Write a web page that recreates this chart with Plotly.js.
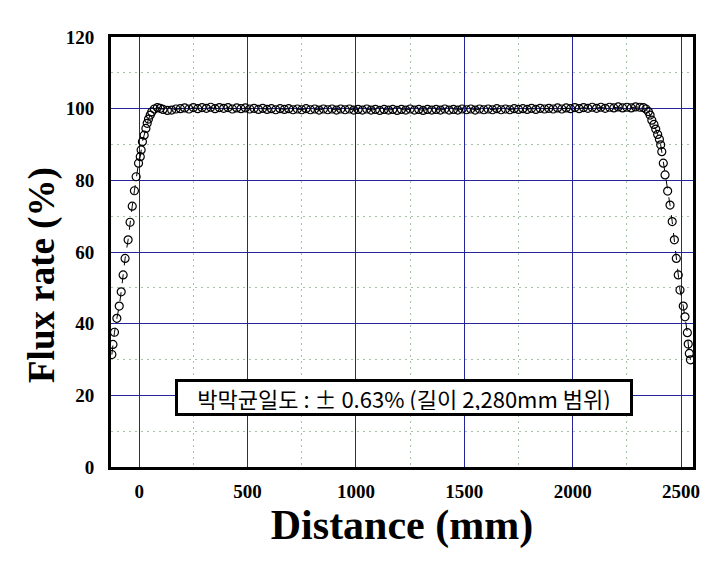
<!DOCTYPE html>
<html>
<head>
<meta charset="utf-8">
<script src="https://cdn.plot.ly/plotly-3.0.1.min.js"></script>
<style>html,body{margin:0;padding:0;background:#fff;}#chart{width:726px;height:564px;}</style>
</head>
<body>
<div id="chart"></div>
<script>
// Left rise
const xLeft = [-126,-121,-114,-103,-92,-83,-74,-65,-51,-42,-32,-22,-14,-3,5,9,15,23,31,37,43,51,58,70,84,97];
const yLeft = [31.4,34.2,37.6,41.5,44.9,48.9,53.6,58.2,63.4,68.3,72.8,77.1,81.0,84.8,86.6,88.5,90.8,92.6,94.5,95.9,97.1,98.2,99.1,99.9,100.3,100.1];
// Flat region
const xFlat = [110,130,150,170,190,210,230,250,270,290,310,330,350,370,390,410,430,450,470,490,
  510,530,550,570,590,610,630,650,670,690,710,730,750,770,790,810,830,850,870,890,910,930,950,970,990,
  1010,1030,1050,1070,1090,1110,1130,1150,1170,1190,1210,1230,1250,1270,1290,1310,1330,1350,1370,1390,
  1410,1430,1450,1470,1490,1510,1530,1550,1570,1590,
  1610,1630,1650,1670,1690,1710,1730,1750,1770,1790,1810,1830,1850,1870,1890,1910,1930,1950,1970,1990,
  2010,2030,2050,2070,2090,2110,2130,2150,2170,2190,2210,2230,2250,2270,2290,2310];
const yFlat = [99.8,99.5,99.6,99.9,100.0,
  100.2,99.9,100.3,100.0,100.3,100.1,100.4,100.0,100.3,100.1,100.3,99.9,100.2,100.0,100.2,
  99.9,100.1,99.8,100.1,99.8,100.0,99.7,100.0,99.8,100.0,99.7,99.9,99.7,100.0,99.7,99.9,99.6,99.9,99.7,99.9,99.6,99.9,99.7,99.9,99.6,
  99.8,99.6,99.9,99.6,99.8,99.5,99.8,99.6,99.8,99.5,99.8,99.6,99.9,99.6,99.8,99.5,99.8,99.6,99.8,99.6,99.9,99.6,99.8,99.6,99.9,99.7,99.9,99.6,99.9,99.7,
  99.9,99.7,100.0,99.7,99.9,99.7,100.0,99.8,100.0,99.8,100.1,99.8,100.1,99.9,100.1,99.9,100.2,99.9,100.2,100.0,
  100.3,100.0,100.3,100.1,100.4,100.1,100.4,100.1,100.4,100.2,100.5,100.2,100.4,100.2,100.5,100.4];
// Right fall
const xRight = [2326,2338,2349,2357,2365,2375,2383,2392,2400,2406,2411,2418,2426,2438,2449,2459,2469,2478,2487,2495,2510,2518,2529,2533,2538,2543];
const yRight = [100.3,99.9,99.2,98.2,96.8,95.6,94.3,92.8,91.5,89.9,88.0,84.8,81.5,77.0,73.1,68.5,63.4,58.2,53.6,49.4,44.9,41.9,37.5,34.3,31.7,29.9];

const xTitle = 'Distance (mm)';
const yTitle = 'Flux rate (%)';
const noteText = '박막균일도 : ± 0.63% (길이 2,280mm 범위)';

const xs = xLeft.concat(xFlat, xRight);
const ys = yLeft.concat(yFlat, yRight);

const serif = 'Liberation Serif, Times New Roman, serif';
const major = '#25259a';
const minorC = '#a6c2a6';

const trace = {
  x: xs, y: ys, type: 'scatter', mode: 'lines+markers',
  line: {color: '#000', width: 1, dash: 'dash'},
  marker: {symbol: 'circle-open', size: 8, color: '#000', line: {width: 1.2, color: '#000'}},
  showlegend: false
};

const axisCommon = {
  showgrid: true, gridcolor: major, gridwidth: 1,
  showline: true, mirror: true, linecolor: '#000', linewidth: 3,
  zeroline: false, ticks: '',
  tickfont: {family: serif, size: 19, color: '#000', weight: 700}
};

const layout = {
  width: 726, height: 564,
  margin: {l: 111, r: 33, t: 37, b: 97},
  paper_bgcolor: '#fff', plot_bgcolor: '#fff',
  xaxis: Object.assign({}, axisCommon, {
    range: [-130, 2555], tick0: 0, dtick: 500,
    minor: {dtick: 250, tick0: 0, showgrid: true, gridcolor: minorC, griddash: '2px,4px', gridwidth: 1},
    ticklabelstandoff: 5,
    title: {text: xTitle, font: {family: serif, size: 42, color: '#000', weight: 700}, standoff: 4}
  }),
  yaxis: Object.assign({}, axisCommon, {
    range: [0, 120], tick0: 0, dtick: 20,
    minor: {dtick: 10, tick0: 0, showgrid: true, gridcolor: minorC, griddash: '2px,4px', gridwidth: 1},
    ticklabelstandoff: 10,
    title: {text: ''}
  }),
  annotations: [{
    xref: 'paper', yref: 'paper', x: 0.503, y: 0.162, xanchor: 'center', yanchor: 'middle',
    showarrow: false, text: noteText,
    font: {family: 'Noto Sans CJK KR, sans-serif', size: 22, color: '#000'},
    width: 446, height: 25,
    bgcolor: '#fff', bordercolor: '#000', borderwidth: 3, borderpad: 3
  }, {
    xref: 'paper', yref: 'paper', x: -0.1186, y: 0.4465, xanchor: 'center', yanchor: 'middle',
    showarrow: false, text: yTitle, textangle: -90,
    font: {family: serif, size: 37, color: '#000', weight: 700}
  }]
};

Plotly.newPlot('chart', [trace], layout, {displayModeBar: false, staticPlot: true});
</script>
</body>
</html>
